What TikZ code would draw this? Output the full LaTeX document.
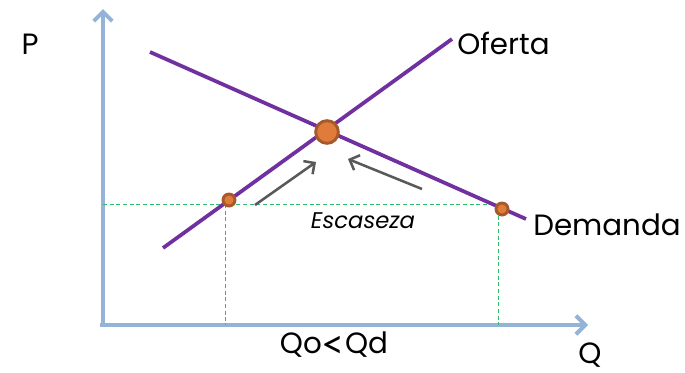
\documentclass[tikz,border=0pt]{standalone}
\usepackage{fontspec}
\setmainfont{Poppins}
\newfontfamily\ltfont{Lato}
\usepackage{xcolor}
\usepackage{tikz}
\usetikzlibrary{positioning, arrows.meta}
\definecolor{mkpurple}{HTML}{7030A0}
\definecolor{mkaxis}{HTML}{95B3D7}
\definecolor{mkorange}{HTML}{E07B39}
\definecolor{mkbrown}{HTML}{A65A2B}
\definecolor{mkgray}{HTML}{595959}
\definecolor{mkgreen}{HTML}{2EBE6A}

\begin{document}
\begin{tikzpicture}[
  x=0.75pt, y=-0.75pt,
  axisline/.style={line width=3pt, color=mkaxis, -{Straight Barb[length=7pt, width=14pt, line width=3pt]}},
  curve/.style={line width=2.8pt, color=mkpurple},
  guide/.style={densely dashed, thin, color=mkgreen},
  push/.style={line width=1.9pt, color=mkgray, -{Straight Barb[length=6pt, width=12pt]}},
  eqdot/.style={circle, draw=mkbrown, fill=mkorange, line width=2.2pt, inner sep=0pt, minimum size=17pt},
  smalldot/.style={circle, draw=mkbrown, fill=mkorange, line width=2.2pt, inner sep=0pt, minimum size=9pt},
  lbl/.style={font=\fontsize{22}{25}\selectfont, inner sep=0pt},
]
\useasboundingbox (0,0) rectangle (685,372);

% Ejes
\coordinate (origin) at (103,325);
\coordinate (ytop) at (103,9);
\coordinate (xend) at (588,325);
\draw[axisline] (origin) -- (ytop);
\draw[axisline] ([xshift=-2pt]origin) -- (xend);

% Curvas
\coordinate (ofertaA) at (163,248);
\coordinate (ofertaB) at (452,39);
\coordinate (demandaA) at (150,52);
\coordinate (demandaB) at (526,219);

% Puntos
\coordinate (qo) at (229,200);
\coordinate (qd) at (502,209);

% Lineas guia
\coordinate (pleft) at (103,204);
\coordinate (qofoot) at (225,325);
\coordinate (qdfoot) at (498,325);
\draw[guide] (pleft) -- (498,204);
\draw[guide] (225,204) -- (qofoot);
\draw[guide] (498,209) -- (qdfoot);

\draw[curve] (ofertaA) -- (ofertaB);
\draw[curve] (demandaA) -- (demandaB);

\node[eqdot] (eq) at (327,132) {};
\node[smalldot] (dotqo) at (qo) {};
\node[smalldot] (dotqd) at (qd) {};

% Flechas de ajuste
\coordinate (pushA) at (255,205);
\coordinate (pushB) at (422,189);
\draw[push] (pushA) -- (316,162);
\draw[push] (pushB) -- (348,159);

% Etiquetas
\node[lbl] (plabel) at (30,44) {P};
\node[lbl] (qlabel) at (590,355) {Q};
\node[lbl, anchor=west] (oflabel) at (457,43) {Oferta};
\node[lbl, anchor=west] (demlabel) at (533,225) {Demanda};
\node[lbl] (qolabel) at (334,345) {Qo\raisebox{-3.5pt}{\ltfont\fontsize{30}{30}\selectfont<}Qd};
\node[font=\fontsize{17}{20}\selectfont\itshape, inner sep=0pt] (esclabel) at (363,221) {Escaseza};

\end{tikzpicture}
\end{document}
